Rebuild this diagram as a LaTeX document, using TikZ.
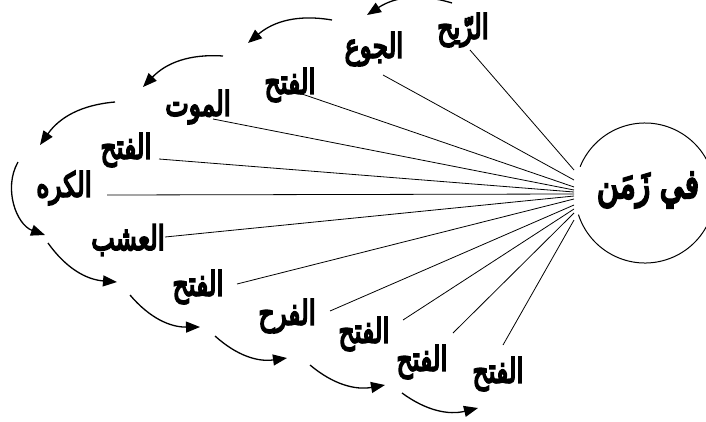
\documentclass[tikz,border=0pt]{standalone}
\usepackage{fontspec}
\usepackage{graphicx}
\newfontfamily\arabicfont[Script=Arabic,FakeBold=6]{DejaVu Sans}
\TeXXeTstate=1
\usetikzlibrary{arrows.meta}
\newcommand\tallword[1]{\scalebox{1}[1.35]{\beginR #1\endR}}

\begin{document}
\begin{tikzpicture}[x=1pt,y=-1pt,
  word/.style={font=\arabicfont\fontsize{25}{28}\selectfont,inner sep=1pt},
  spoke/.style={line width=0.8pt,black},
  turn/.style={-{Triangle[length=14pt,width=11pt]},line width=1.3pt,bend right=25}
]
  \useasboundingbox (0,0) rectangle (706,421);

  % Circle with its opening on the left
  \coordinate (c) at (645,193);
  \draw[line width=1pt] (c) ++(162:70) arc[start angle=162,end angle=-158,radius=70];
  \node[word,font=\arabicfont\fontsize{30}{34}\selectfont] (zaman) at (648,190) {\tallword{في زَمَن}};

  % Words round the fan
  \node[word] (w1) at (463,30) {\tallword{الرّيح}};
  \node[word] (w2) at (374,49) {\tallword{الجوع}};
  \node[word] (w3) at (290,85) {\tallword{الفتح}};
  \node[word] (w4) at (198,107) {\tallword{الموت}};
  \node[word] (w5) at (126,150) {\tallword{الفتح}};
  \node[word] (w6) at (64,188) {\tallword{الكره}};
  \node[word] (w7) at (128,240) {\tallword{العشب}};
  \node[word] (w8) at (198,287) {\tallword{الفتح}};
  \node[word] (w9) at (287,316) {\tallword{الفرح}};
  \node[word] (w10) at (364,334) {\tallword{الفتح}};
  \node[word] (w11) at (422,362) {\tallword{الفتح}};
  \node[word] (w12) at (498,374) {\tallword{الفتح}};

  % Spokes to the circle
  \foreach \i/\sx/\sy/\y in {1/470/50/170, 2/383/75/180, 3/302/94/187,
      4/213/119/190, 5/159/159/192, 6/107/195/194, 7/165/237/196,
      8/237/284/199, 9/330/311/205, 10/403/320/209, 11/453/333/213,
      12/503/345/220}{
    \coordinate (s\i) at (\sx,\sy);
    \coordinate (h\i) at (574,\y);
    \draw[spoke] (s\i) -- (h\i);
  }

  % Arrows round the outside
  \coordinate (a1) at (452,3);   \coordinate (b1) at (367,15);
  \coordinate (a2) at (332,20);  \coordinate (b2) at (248,43);
  \coordinate (a3) at (223,56);  \coordinate (b3) at (143,87);
  \coordinate (a4) at (115,102); \coordinate (b4) at (40,145);
  \coordinate (a5) at (18,162);  \coordinate (b5) at (45,235);
  \coordinate (a6) at (48,243);  \coordinate (b6) at (117,282);
  \coordinate (a7) at (130,295); \coordinate (b7) at (200,327);
  \coordinate (a8) at (215,336); \coordinate (b8) at (287,358);
  \coordinate (a9) at (310,365); \coordinate (b9) at (385,385);
  \coordinate (a10) at (402,393); \coordinate (b10) at (478,408);
  \foreach \i in {1,2,3,4,6,7,8,9,10}
    \draw[turn] (a\i) to (b\i);
  \draw[turn,bend right=50] (a5) to (b5);
\end{tikzpicture}
\end{document}
